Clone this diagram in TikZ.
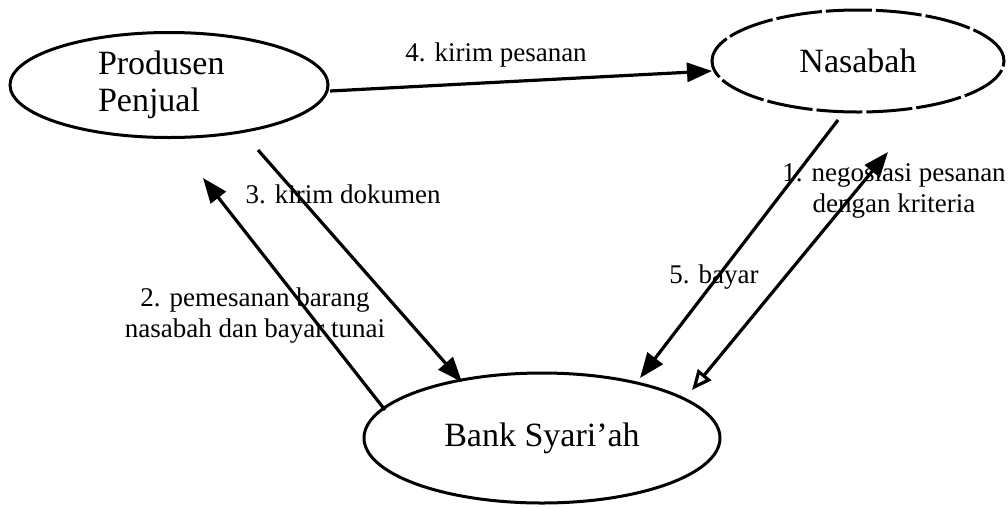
\documentclass[tikz,border=0pt]{standalone}
\usepackage{fontspec}
\setmainfont{Liberation Serif}
\usetikzlibrary{shapes.geometric,arrows.meta,calc}
\begin{document}
\begin{tikzpicture}[x=1pt,y=-1pt,
  party/.style={draw, ellipse, line width=3pt, inner sep=0pt,
    font=\fontsize{34}{37}\selectfont},
  flow/.style={line width=3.2pt, -{Triangle[length=25pt,width=19pt]}},
  lbl/.style={font=\fontsize{27}{31}\selectfont, inner sep=0pt, align=center}]
\useasboundingbox (0,0) rectangle (1008,507);

% parties
\node[party, minimum width=318pt, minimum height=105pt, text width=142pt, align=left]
  (prod) at (169,85) {Produsen\\Penjual};
\node[party, minimum width=292pt, minimum height=102pt,
  dash pattern=on 46pt off 4pt] (nas) at (858,61) {Nasabah};
\node[party, minimum width=356pt, minimum height=130pt]
  (bank) at (542,438) {Bank Syari’ah};

% flows between the parties
\draw[flow] ($(prod.center)+(161,6)$) -- ($(nas.center)+(-146,10)$);
\draw[flow] ($(prod.center)+(89,65)$) -- ($(bank.center)+(-80,-56)$);
\draw[flow] ($(bank.center)+(-157,-28)$) -- ($(prod.center)+(34,93)$);
\draw[flow] ($(nas.center)+(-20,59)$) -- ($(bank.center)+(98,-60)$);
\draw[flow, {Triangle[open,length=20pt,width=17pt]}-{Triangle[length=25pt,width=19pt]}]
  ($(bank.center)+(150,-48)$) -- ($(nas.center)+(30,91)$);

% flow labels
\node[lbl] (l4) at (496,55) {4. kirim pesanan};
\node[lbl] (l3) at (343,194) {3. kirim dokumen};
\node[lbl] (l2) at (255,316) {2. pemesanan barang\\nasabah dan bayar tunai};
\node[lbl] (l5) at (714,277) {5. bayar};
\node[lbl] (l1) at (894,191) {1. negosiasi pesanan\\dengan kriteria};
\end{tikzpicture}
\end{document}
